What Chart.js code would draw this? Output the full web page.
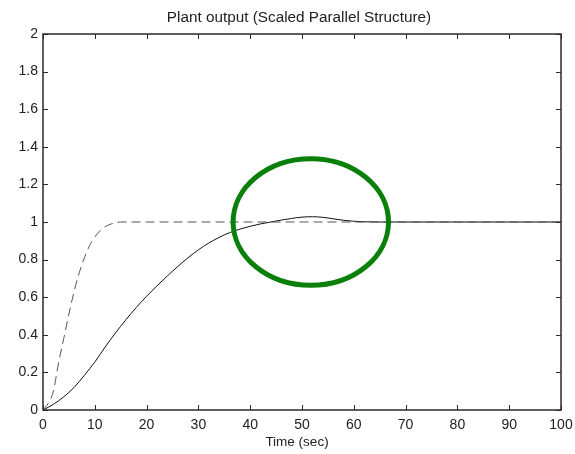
<!DOCTYPE html>
<html><head><meta charset="utf-8">
<script src="https://cdn.jsdelivr.net/npm/chart.js@4/dist/chart.umd.min.js"></script>
<style>html,body{margin:0;padding:0;background:#fff;}canvas{display:block;}</style>
</head><body>
<canvas id="c" width="575" height="454"></canvas>
<script>
// ---- data ----
const timeSolid   = [0, 2, 4, 6, 8, 10, 12, 14, 16, 18, 20, 22, 24, 26, 28, 30, 32, 34, 36, 38, 40, 42, 44, 46, 48, 50, 52, 54, 56, 58, 60, 62, 65, 70, 80, 90, 100];
const outputSolid = [0, 0.03, 0.07, 0.12, 0.185, 0.255, 0.335, 0.41, 0.48, 0.545, 0.605, 0.66, 0.713, 0.763, 0.81, 0.852, 0.888, 0.918, 0.943, 0.962, 0.977, 0.99, 1.0, 1.01, 1.019, 1.026, 1.028, 1.025, 1.017, 1.009, 1.004, 1.001, 1.0, 1.0, 1.0, 1.0, 1.0];
const timeDashed   = [0, 1, 2, 3, 4, 5, 6, 7, 8, 9, 10, 11, 12, 13, 14, 15, 20, 30, 40, 50, 60, 70, 80, 90, 100];
const outputDashed = [0, 0.035, 0.10, 0.25, 0.38, 0.51, 0.63, 0.73, 0.81, 0.875, 0.92, 0.953, 0.975, 0.988, 0.995, 1.0, 1.0, 1.0, 1.0, 1.0, 1.0, 1.0, 1.0, 1.0, 1.0];
const xTickValues = [0, 10, 20, 30, 40, 50, 60, 70, 80, 90, 100];
const yTickValues = [0, 0.2, 0.4, 0.6, 0.8, 1, 1.2, 1.4, 1.6, 1.8, 2];
const highlightCenter = [51.7, 1.0];   // data units
const highlightRadius = [15, 0.337];   // data units
const titleText = 'Plant output (Scaled Parallel Structure)';
const xLabelText = 'Time (sec)';

const FONT = '"Liberation Sans", Arial, sans-serif';

const framePlugin = {
  id: 'frame',
  afterDatasetsDraw(chart) {
    const ctx = chart.ctx;
    const xs = chart.scales.x, ys = chart.scales.y;
    const a = chart.chartArea;
    ctx.save();
    // highlight ellipse
    const cx = xs.getPixelForValue(highlightCenter[0]);
    const cy = ys.getPixelForValue(highlightCenter[1]);
    const rx = Math.abs(xs.getPixelForValue(highlightCenter[0] + highlightRadius[0]) - cx);
    const ry = Math.abs(ys.getPixelForValue(highlightCenter[1] + highlightRadius[1]) - cy);
    ctx.beginPath();
    ctx.ellipse(cx, cy, rx, ry, 0, 0, Math.PI * 2);
    ctx.strokeStyle = '#0a7f0a';
    ctx.lineWidth = 5;
    ctx.stroke();
    // frame
    ctx.strokeStyle = '#2a2a2a';
    ctx.lineWidth = 1.5;
    ctx.strokeRect(a.left, a.top, a.right - a.left, a.bottom - a.top);
    // inward ticks
    ctx.lineWidth = 1;
    const tl = 5;
    ctx.beginPath();
    xTickValues.forEach(v => {
      const px = Math.round(xs.getPixelForValue(v)) + 0.5;
      ctx.moveTo(px, a.bottom); ctx.lineTo(px, a.bottom - tl);
      ctx.moveTo(px, a.top); ctx.lineTo(px, a.top + tl);
    });
    yTickValues.forEach(v => {
      const py = Math.round(ys.getPixelForValue(v)) + 0.5;
      ctx.moveTo(a.left, py); ctx.lineTo(a.left + tl, py);
      ctx.moveTo(a.right, py); ctx.lineTo(a.right - tl, py);
    });
    ctx.stroke();
    // title and x label
    ctx.fillStyle = '#222';
    ctx.textAlign = 'center';
    ctx.textBaseline = 'middle';
    ctx.font = '15.3px ' + FONT;
    ctx.fillText(titleText, 299, 18);
    ctx.font = '13.5px ' + FONT;
    ctx.fillText(xLabelText, 297, 442);
    ctx.restore();
  }
};

new Chart(document.getElementById('c'), {
  type: 'line',
  data: {
    datasets: [
      {
        data: timeDashed.map((t, i) => ({x: t, y: outputDashed[i]})),
        borderColor: '#555',
        borderWidth: 1,
        borderDash: [9, 5],
        pointRadius: 0,
        cubicInterpolationMode: 'monotone',
        fill: false
      },
      {
        data: timeSolid.map((t, i) => ({x: t, y: outputSolid[i]})),
        borderColor: '#111',
        borderWidth: 1,
        pointRadius: 0,
        cubicInterpolationMode: 'monotone',
        fill: false
      }
    ]
  },
  options: {
    responsive: false,
    animation: false,
    devicePixelRatio: 1,
    layout: {padding: {top: 34, right: 14, left: 0, bottom: 0}},
    plugins: {legend: {display: false}, tooltip: {enabled: false}, title: {display: false}},
    scales: {
      x: {
        type: 'linear', min: 0, max: 100,
        afterBuildTicks: s => { s.ticks = xTickValues.map(v => ({value: v})); },
        afterFit: s => { s.height = 44; s.paddingLeft = 0; s.paddingRight = 0; },
        grid: {display: false, drawTicks: false, tickLength: 0}, border: {display: false},
        ticks: {font: {family: FONT, size: 14}, color: '#222', padding: 7, maxRotation: 0, autoSkip: false,
                callback: v => String(v)}
      },
      y: {
        type: 'linear', min: 0, max: 2,
        afterBuildTicks: s => { s.ticks = yTickValues.map(v => ({value: v})); },
        afterFit: s => { s.width = 43; s.paddingTop = 0; s.paddingBottom = 0; },
        grid: {display: false, drawTicks: false, tickLength: 0}, border: {display: false},
        ticks: {font: {family: FONT, size: 14}, color: '#222', padding: 5, autoSkip: false,
                callback: v => String(Math.round(v * 10) / 10)}
      }
    }
  },
  plugins: [framePlugin]
});
</script>
</body></html>
